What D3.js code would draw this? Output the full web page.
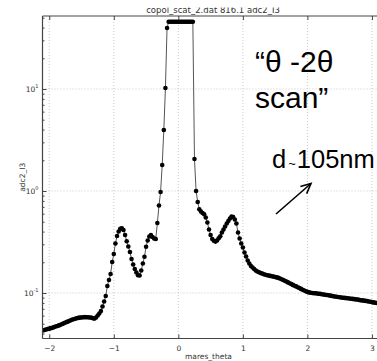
<!DOCTYPE html>
<html>
<head>
<meta charset="utf-8">
<script src="https://cdn.jsdelivr.net/npm/d3@7"></script>
<style>
  html, body { margin: 0; padding: 0; background: #fff; }
  svg { display: block; }
</style>
</head>
<body>
<svg id="chart" width="377" height="361"></svg>
<script>
const chartTitle = "copol_scat_2.dat 816.1 adc2_I3";
const xLabel = "mares_theta";
const yLabel = "adc2_I3";
const xTickValues = [-2, -1, 0, 1, 2, 3];
const xTickLabels = ["\u22122", "\u22121", "0", "1", "2", "3"];
const yTickValues = [0.1, 1, 10];
const yTickExponents = ["-1", "0", "1"];

const theta = [
  -2.100,-2.075,-2.050,-2.025,-2.000,-1.975,-1.950,-1.925,-1.900,-1.875,
  -1.850,-1.825,-1.800,-1.775,-1.750,-1.725,-1.700,-1.675,-1.650,-1.625,
  -1.600,-1.575,-1.550,-1.525,-1.500,-1.475,-1.450,-1.425,-1.400,-1.375,
  -1.350,-1.325,-1.300,-1.275,-1.250,-1.225,-1.200,-1.175,-1.150,-1.125,
  -1.100,-1.075,-1.050,-1.025,-1.000,-0.975,-0.950,-0.925,-0.900,-0.875,
  -0.850,-0.825,-0.800,-0.775,-0.750,-0.725,-0.700,-0.675,-0.650,-0.625,
  -0.600,-0.575,-0.550,-0.525,-0.500,-0.475,-0.450,-0.425,-0.400,-0.375,
  -0.350,-0.325,-0.300,-0.275,-0.250,-0.225,-0.200,-0.175,-0.150,-0.125,
  -0.100,-0.075,-0.050,-0.025,0.000,0.025,0.050,0.075,0.100,0.125,
  0.150,0.175,0.200,0.225,0.250,0.275,0.300,0.325,0.350,0.375,
  0.400,0.425,0.450,0.475,0.500,0.525,0.550,0.575,0.600,0.625,
  0.650,0.675,0.700,0.725,0.750,0.775,0.800,0.825,0.850,0.875,
  0.900,0.925,0.950,0.975,1.000,1.025,1.050,1.075,1.100,1.125,
  1.150,1.175,1.200,1.225,1.250,1.275,1.300,1.325,1.350,1.375,
  1.400,1.425,1.450,1.475,1.500,1.525,1.550,1.575,1.600,1.625,
  1.650,1.675,1.700,1.725,1.750,1.775,1.800,1.825,1.850,1.875,
  1.900,1.925,1.950,1.975,2.000,2.025,2.050,2.075,2.100,2.125,
  2.150,2.175,2.200,2.225,2.250,2.275,2.300,2.325,2.350,2.375,
  2.400,2.425,2.450,2.475,2.500,2.525,2.550,2.575,2.600,2.625,
  2.650,2.675,2.700,2.725,2.750,2.775,2.800,2.825,2.850,2.875,
  2.900,2.925,2.950,2.975,3.000,3.025,3.050,3.075
];

const adc2I3 = [
  0.0429,0.0434,0.0438,0.0443,0.0447,0.0452,0.0457,0.0463,0.0469,0.0475,
  0.0481,0.0488,0.0497,0.0504,0.0513,0.0521,0.0528,0.0537,0.0546,0.0553,
  0.0560,0.0565,0.0570,0.0574,0.0576,0.0579,0.0580,0.0579,0.0578,0.0576,
  0.0574,0.0565,0.0561,0.0575,0.0602,0.0630,0.0666,0.0737,0.0825,0.0935,
  0.1171,0.1341,0.1536,0.2013,0.2412,0.3056,0.3622,0.4009,0.4259,0.4317,
  0.4146,0.3704,0.3211,0.2857,0.2523,0.2154,0.1903,0.1719,0.1589,0.1495,
  0.1485,0.1662,0.1946,0.2270,0.2844,0.3270,0.3581,0.3704,0.3540,0.3422,
  0.3384,0.4856,0.7210,0.9777,1.798,3.963,10.23,39.63,45.7,45.7,
  45.7,45.7,45.7,45.7,45.7,45.7,45.7,45.7,45.7,45.7,
  45.7,45.7,45.7,45.7,2.059,1.000,0.7801,0.6614,0.6295,0.6086,
  0.5923,0.5496,0.4912,0.4194,0.3704,0.3384,0.3249,0.3191,0.3270,0.3438,
  0.3597,0.3919,0.4183,0.4487,0.4802,0.5081,0.5376,0.5623,0.5560,0.5256,
  0.4802,0.3919,0.3422,0.3056,0.2793,0.2494,0.2280,0.2083,0.1946,0.1839,
  0.1778,0.1719,0.1662,0.1625,0.1596,0.1571,0.1550,0.1529,0.1509,0.1495,
  0.1485,0.1471,0.1461,0.1448,0.1435,0.1422,0.1406,0.1387,0.1365,0.1341,
  0.1317,0.1293,0.1270,0.1245,0.1223,0.1201,0.1179,0.1161,0.1140,0.1119,
  0.1097,0.1077,0.1058,0.1039,0.1025,0.1014,0.1005,0.1000,0.0995,0.0993,
  0.0989,0.0984,0.0980,0.0973,0.0967,0.0960,0.0956,0.0950,0.0943,0.0937,
  0.0930,0.0924,0.0918,0.0914,0.0907,0.0903,0.0899,0.0895,0.0891,0.0887,
  0.0883,0.0879,0.0876,0.0870,0.0866,0.0862,0.0856,0.0850,0.0846,0.0842,
  0.0837,0.0833,0.0825,0.0820,0.0814,0.0809,0.0803,0.0798
];

const annotationLine1 = "\u201C\u03B8 -2\u03B8";
const annotationLine2 = "scan\u201D";
const annotationD = "d";
const annotationTilde = "~";
const annotationValue = "105nm";

const svg = d3.select("#chart");
const W = 377, H = 361;
const plot = { left: 42.5, top: 16, right: 380, bottom: 338.5 };

const x = d3.scaleLinear().domain([-2.105, 3.125]).range([plot.left, plot.right]);
const y = d3.scaleLog().domain([0.0358, 51.96]).range([plot.bottom, plot.top]);

const axisColor = "#444";
const textColor = "#333";
const tickFont = "DejaVu Sans, sans-serif";

svg.append("defs").append("clipPath").attr("id", "plotClip")
  .append("rect").attr("x", plot.left).attr("y", plot.top - 4)
  .attr("width", plot.right - plot.left).attr("height", plot.bottom - plot.top + 4);
svg.select("defs").append("clipPath").attr("id", "titleClip")
  .append("rect").attr("x", 0).attr("y", 7.5).attr("width", W).attr("height", 10);

// grid
const grid = svg.append("g");
xTickValues.forEach(v => {
  grid.append("line")
    .attr("x1", x(v)).attr("x2", x(v))
    .attr("y1", plot.top).attr("y2", plot.bottom)
    .attr("stroke", "#bbb").attr("stroke-width", 0.8)
    .attr("stroke-dasharray", "1,2");
});
yTickValues.forEach(v => {
  grid.append("line")
    .attr("x1", plot.left).attr("x2", plot.right)
    .attr("y1", y(v)).attr("y2", y(v))
    .attr("stroke", "#bbb").attr("stroke-width", 0.8)
    .attr("stroke-dasharray", "1,2");
});

// data line and markers
const pts = theta.map((t, i) => [t, adc2I3[i]]);
const dataG = svg.append("g").attr("clip-path", "url(#plotClip)");
dataG.append("path")
  .datum(pts)
  .attr("fill", "none")
  .attr("stroke", "#555")
  .attr("stroke-width", 1)
  .attr("d", d3.line().x(d => x(d[0])).y(d => y(d[1])));
dataG.selectAll("circle")
  .data(pts)
  .join("circle")
  .attr("cx", d => x(d[0]))
  .attr("cy", d => y(d[1]))
  .attr("r", 2.3)
  .attr("fill", "#000");

// frame
svg.append("line").attr("x1", plot.left).attr("x2", plot.left)
  .attr("y1", plot.top).attr("y2", plot.bottom)
  .attr("stroke", axisColor).attr("stroke-width", 1.2);
svg.append("line").attr("x1", plot.left).attr("x2", plot.right)
  .attr("y1", plot.bottom).attr("y2", plot.bottom)
  .attr("stroke", axisColor).attr("stroke-width", 1.2);
svg.append("line").attr("x1", plot.left).attr("x2", plot.right)
  .attr("y1", plot.top).attr("y2", plot.top)
  .attr("stroke", axisColor).attr("stroke-width", 1.2);

// x axis ticks (inward)
const xAxis = d3.axisBottom(x).tickValues(xTickValues).tickSizeInner(-4).tickSizeOuter(0)
  .tickFormat((d, i) => xTickLabels[i]);
const xg = svg.append("g").attr("transform", `translate(0,${plot.bottom})`).call(xAxis);
xg.select(".domain").remove();
xg.selectAll(".tick line").attr("stroke", axisColor);
xg.selectAll(".tick text").attr("y", 7).attr("dy", "0.71em")
  .attr("font-family", tickFont).attr("font-size", 7.5).attr("fill", textColor);

const xTop = d3.axisTop(x).tickValues(xTickValues).tickSizeInner(-4).tickSizeOuter(0).tickFormat("");
const xtg = svg.append("g").attr("transform", `translate(0,${plot.top})`).call(xTop);
xtg.select(".domain").remove();
xtg.selectAll(".tick line").attr("stroke", axisColor);

// y axis ticks (inward) with minor ticks
const minorVals = [];
[0.01, 0.1, 1, 10].forEach(dec => {
  for (let k = 2; k <= 9; k++) {
    const v = dec * k;
    if (v > y.domain()[0] && v < y.domain()[1]) minorVals.push(v);
  }
});
const yMinor = d3.axisLeft(y).tickValues(minorVals).tickSizeInner(-2).tickSizeOuter(0).tickFormat("");
const ymg = svg.append("g").attr("transform", `translate(${plot.left},0)`).call(yMinor);
ymg.select(".domain").remove();
ymg.selectAll(".tick line").attr("stroke", axisColor);

const yAxis = d3.axisLeft(y).tickValues(yTickValues).tickSizeInner(-4).tickSizeOuter(0).tickFormat("");
const yg = svg.append("g").attr("transform", `translate(${plot.left},0)`).call(yAxis);
yg.select(".domain").remove();
yg.selectAll(".tick line").attr("stroke", axisColor);

yTickValues.forEach((v, i) => {
  const t = svg.append("text")
    .attr("x", plot.left - 4)
    .attr("y", y(v) + 3)
    .attr("text-anchor", "end")
    .attr("font-family", tickFont)
    .attr("font-size", 7.5)
    .attr("fill", textColor);
  t.append("tspan").text("10");
  t.append("tspan").attr("dy", -3.5).attr("font-size", 5).text(yTickExponents[i]);
});

// title
svg.append("text")
  .attr("clip-path", "url(#titleClip)")
  .attr("x", 213)
  .attr("y", 13.2)
  .attr("text-anchor", "middle")
  .attr("font-family", tickFont)
  .attr("font-size", 8.5)
  .attr("fill", textColor)
  .text(chartTitle);

// axis labels
svg.append("text")
  .attr("x", 208.5)
  .attr("y", 359)
  .attr("text-anchor", "middle")
  .attr("font-family", tickFont)
  .attr("font-size", 7.5)
  .attr("fill", textColor)
  .text(xLabel);
svg.append("text")
  .attr("transform", `translate(24.5,${(plot.top + plot.bottom) / 2}) rotate(-90)`)
  .attr("text-anchor", "middle")
  .attr("font-family", tickFont)
  .attr("font-size", 7.5)
  .attr("fill", textColor)
  .text(yLabel);

// annotations
const annFont = "Liberation Sans, Arial, sans-serif";
svg.append("text")
  .attr("x", 255).attr("y", 72)
  .attr("font-family", annFont).attr("font-size", 30).attr("fill", "#000")
  .text(annotationLine1);
svg.append("text")
  .attr("x", 255).attr("y", 108)
  .attr("font-family", annFont).attr("font-size", 30).attr("fill", "#000")
  .text(annotationLine2);
const dText = svg.append("text")
  .attr("x", 272).attr("y", 168)
  .attr("font-family", annFont).attr("font-size", 25.5).attr("fill", "#000");
dText.append("tspan").text(annotationD);
dText.append("tspan").attr("font-size", 13).attr("dx", 2).text(annotationTilde);
dText.append("tspan").attr("font-size", 25.5).attr("dx", 1).text(annotationValue);

// arrow
const ax1 = 276, ay1 = 214, ax2 = 311, ay2 = 183.5;
svg.append("line").attr("x1", ax1).attr("y1", ay1).attr("x2", ax2).attr("y2", ay2)
  .attr("stroke", "#000").attr("stroke-width", 1.6);
const ang = Math.atan2(ay2 - ay1, ax2 - ax1);
const hl = 11, spread = 0.45;
svg.append("polyline")
  .attr("points", [
    [ax2 - hl * Math.cos(ang - spread), ay2 - hl * Math.sin(ang - spread)],
    [ax2, ay2],
    [ax2 - hl * Math.cos(ang + spread), ay2 - hl * Math.sin(ang + spread)]
  ].map(p => p.join(",")).join(" "))
  .attr("fill", "none").attr("stroke", "#000").attr("stroke-width", 1.6);
</script>
</body>
</html>
